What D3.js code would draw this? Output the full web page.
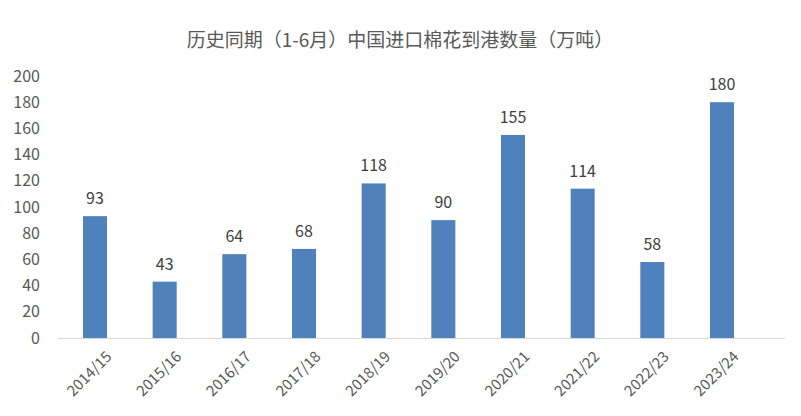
<!DOCTYPE html><html><head><meta charset="utf-8">
<script src="https://cdn.jsdelivr.net/npm/d3@7"></script>
<style>body{margin:0;background:#fff}</style></head><body>
<svg id="c" width="801" height="416"></svg>
<script>
const categories=["2014/15","2015/16","2016/17","2017/18","2018/19","2019/20","2020/21","2021/22","2022/23","2023/24"];
const values=[93,43,64,68,118,90,155,114,58,180];
const yTicks=[0,20,40,60,80,100,120,140,160,180,200];
const title="历史同期（1-6月）中国进口棉花到港数量（万吨）";
const svg=d3.select("#c");
const font="'Noto Sans CJK SC','Noto Sans',sans-serif";
const x=d3.scaleBand().domain(categories).range([60,757]).paddingInner(0.655).paddingOuter(0.33);
const y=d3.scaleLinear().domain([0,200]).range([338,76]);
svg.append("text").attr("x",400).attr("y",47).attr("text-anchor","middle").attr("font-family",font).attr("font-size",19).attr("fill","#595959").text(title);
const ya=svg.append("g").attr("transform","translate(48,0)").call(d3.axisLeft(y).tickValues(yTicks).tickSize(0).tickPadding(8));
ya.select(".domain").remove();
ya.selectAll("text").attr("font-family",font).attr("font-size",16).attr("fill","#595959");
svg.append("line").attr("x1",58).attr("x2",785).attr("y1",338.5).attr("y2",338.5).attr("stroke","#d9d9d9");
svg.selectAll("rect.b").data(values).join("rect").attr("x",(d,i)=>x(categories[i])).attr("width",x.bandwidth()).attr("y",d=>y(d)).attr("height",d=>338-y(d)).attr("fill","#4f81bd");
svg.selectAll("text.v").data(values).join("text").attr("x",(d,i)=>x(categories[i])+x.bandwidth()/2).attr("y",d=>y(d)-12).attr("text-anchor","middle").attr("font-family",font).attr("font-size",16).attr("fill","#404040").text(d=>d);
const xa=svg.append("g").attr("transform","translate(0,338)").call(d3.axisBottom(x).tickSize(0));
xa.select(".domain").remove();
xa.selectAll("text").attr("font-family",font).attr("font-size",15).attr("fill","#595959").attr("text-anchor","end").attr("transform","translate(8,10) rotate(-45)");
</script></body></html>
